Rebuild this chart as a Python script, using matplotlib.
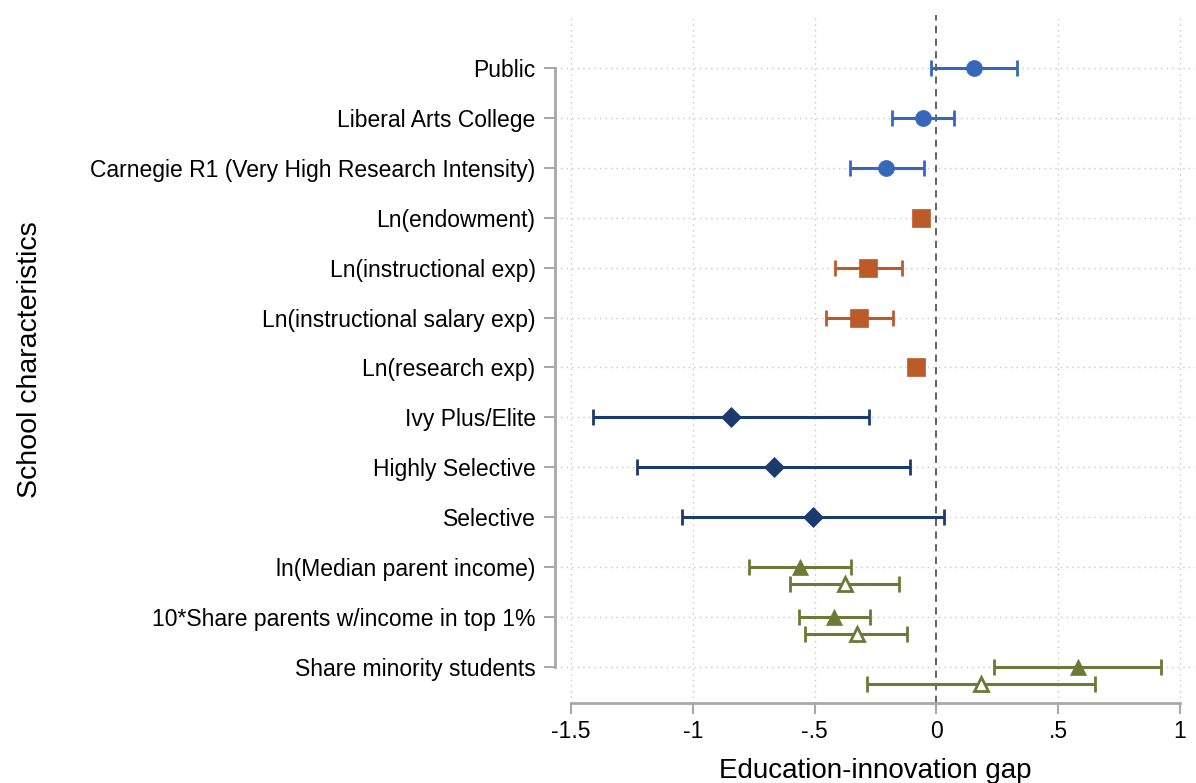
import matplotlib

matplotlib.use("Agg")

import matplotlib.pyplot as plt

plt.rcParams["font.family"] = ["Liberation Sans", "DejaVu Sans"]

# Row labels, top to bottom
labels = [
    "Public",
    "Liberal Arts College",
    "Carnegie R1 (Very High Research Intensity)",
    "Ln(endowment)",
    "Ln(instructional exp)",
    "Ln(instructional salary exp)",
    "Ln(research exp)",
    "Ivy Plus/Elite",
    "Highly Selective",
    "Selective",
    "ln(Median parent income)",
    "10*Share parents w/income in top 1%",
    "Share minority students",
]

# Group 1: school type (circles)
type_rows = [0, 1, 2]
type_est = [0.153, -0.055, -0.205]
type_lo = [-0.024, -0.183, -0.355]
type_hi = [0.332, 0.074, -0.052]

# Group 2: spending (squares)
spend_rows = [3, 4, 5, 6]
spend_est = [-0.065, -0.282, -0.317, -0.083]
spend_lo = [-0.085, -0.418, -0.453, -0.100]
spend_hi = [-0.045, -0.143, -0.177, -0.066]

# Group 3: selectivity (diamonds)
sel_rows = [7, 8, 9]
sel_est = [-0.844, -0.668, -0.506]
sel_lo = [-1.408, -1.229, -1.043]
sel_hi = [-0.275, -0.110, 0.033]

# Group 4: student body, two specifications (filled / hollow triangles)
stud_rows = [10, 11, 12]
stud_est_a = [-0.561, -0.420, 0.580]
stud_lo_a = [-0.770, -0.565, 0.238]
stud_hi_a = [-0.351, -0.274, 0.921]
stud_est_b = [-0.375, -0.327, 0.184]
stud_lo_b = [-0.603, -0.541, -0.286]
stud_hi_b = [-0.153, -0.119, 0.653]

x_ticks = [-1.5, -1, -0.5, 0, 0.5, 1]
x_tick_labels = ["-1.5", "-1", "-.5", "0", ".5", "1"]

BLUE = "#3767bb"
ORANGE = "#bd5a2a"
NAVY = "#1b3a6d"
OLIVE = "#6b7a36"
GRID = "#c8c8c8"
AXIS = "#a8a8a8"


def draw(ax, rows, est, lo, hi, color, marker, ms, offset=0.0, hollow=False):
    ys = [r + offset for r in rows]
    xerr = [
        [e - l for e, l in zip(est, lo, strict=True)],
        [h - e for e, h in zip(est, hi, strict=True)],
    ]
    ax.errorbar(
        est, ys, xerr=xerr, fmt="none", ecolor=color, elinewidth=2.2,
        capsize=5.5, capthick=2.0, zorder=3,
    )
    ax.plot(
        est, ys, linestyle="none", marker=marker, markersize=ms,
        markerfacecolor="white" if hollow else color, markeredgecolor=color,
        markeredgewidth=2.0 if hollow else 0.5, zorder=4,
    )


fig = plt.figure(figsize=(11.96, 7.83), dpi=100)
ax = fig.add_axes([555 / 1196, 1 - 703 / 783, 640 / 1196, (703 - 15) / 783])

x_min = -1.5 - 16 / 243.6
ax.set_xlim(x_min, x_min + 640 / 243.6)
ax.set_ylim(12.72, -1.06)

for xt in x_ticks:
    if xt != 0:
        ax.axvline(xt, color=GRID, linestyle=(0, (1, 3)), linewidth=1.0, zorder=1)
for r in range(len(labels)):
    ax.axhline(r, color=GRID, linestyle=(0, (1, 3)), linewidth=1.0, zorder=1)
ax.axvline(0, color="#555555", linestyle=(0, (4, 3)), linewidth=1.3, zorder=2)

draw(ax, type_rows, type_est, type_lo, type_hi, BLUE, "o", 11.5)
draw(ax, spend_rows, spend_est, spend_lo, spend_hi, ORANGE, "s", 12.5)
draw(ax, sel_rows, sel_est, sel_lo, sel_hi, NAVY, "D", 10.5)
draw(ax, stud_rows, stud_est_a, stud_lo_a, stud_hi_a, OLIVE, "^", 12)
draw(ax, stud_rows, stud_est_b, stud_lo_b, stud_hi_b, OLIVE, "^", 9.5, offset=0.33, hollow=True)

ax.set_yticks(range(len(labels)))
ax.set_yticklabels(labels, fontsize=16.5)
ax.set_xticks(x_ticks)
ax.set_xticklabels(x_tick_labels, fontsize=16.5)

for side in ("top", "right"):
    ax.spines[side].set_visible(False)
ax.spines["left"].set_bounds(0, len(labels) - 1)
ax.spines["bottom"].set_bounds(-1.5, 1)
for side in ("left", "bottom"):
    ax.spines[side].set_color(AXIS)
    ax.spines[side].set_linewidth(2.0)
ax.tick_params(axis="both", color=AXIS, width=1.5, length=8, labelcolor="black")
ax.tick_params(axis="y", pad=6)
ax.tick_params(axis="x", pad=4)

ax.set_xlabel("Education-innovation gap", fontsize=20, labelpad=11)
fig.text(30 / 1196, 1 - 360 / 783, "School characteristics", rotation=90,
         fontsize=20.5, ha="center", va="center")

fig.savefig("out.png", dpi=100)
plt.close(fig)
